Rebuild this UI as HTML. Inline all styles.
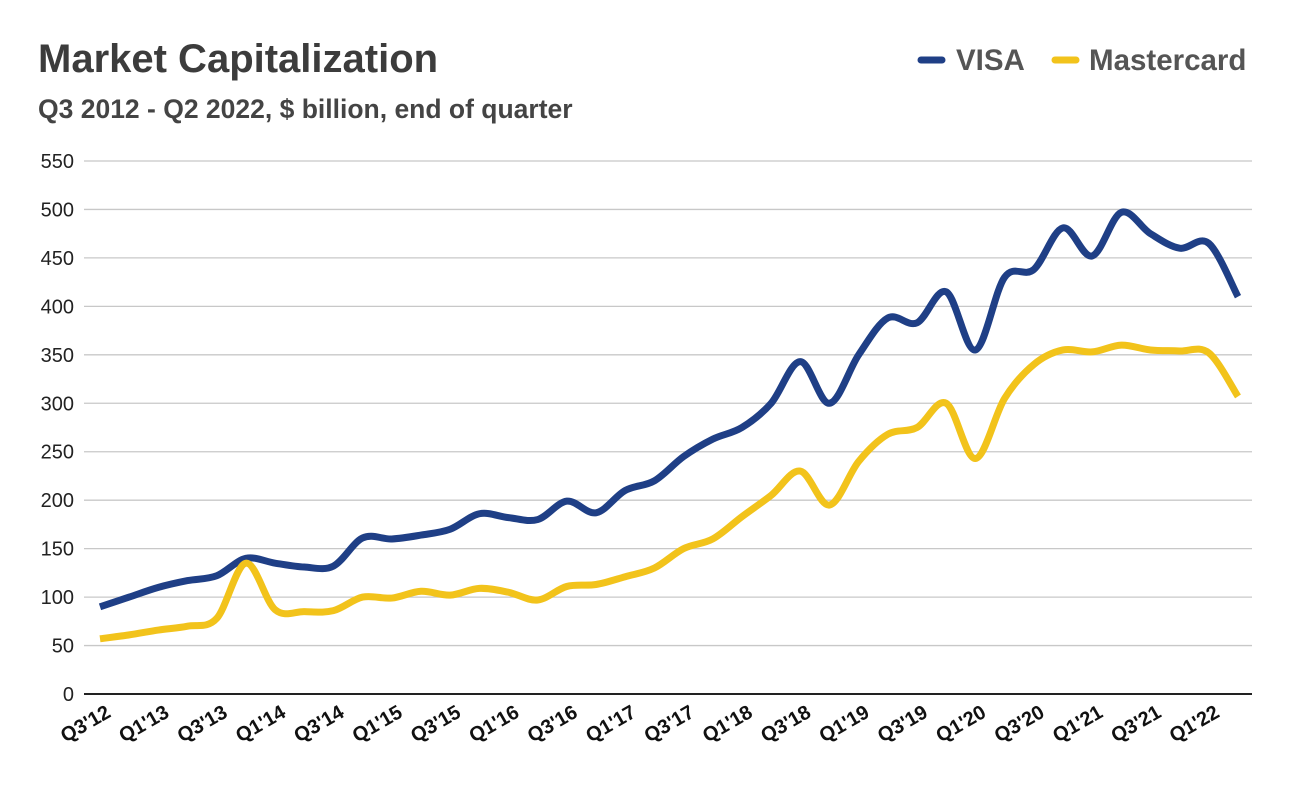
<!DOCTYPE html>
<html><head><meta charset="utf-8"><style>
body{margin:0;background:#fff;width:1292px;height:780px;overflow:hidden;font-family:"Liberation Sans",sans-serif}
</style></head><body>
<svg id="chart" width="1292" height="780">
<text x="38" y="72" font-size="40" font-weight="bold" fill="#3c3c3c">Market Capitalization</text>
<text x="38" y="118" font-size="26.5" font-weight="bold" fill="#444">Q3 2012 - Q2 2022, $ billion, end of quarter</text>
<g>
<g><line x1="921" y1="60" x2="942" y2="60" stroke="#1f3f86" stroke-width="7" stroke-linecap="round"/><text x="956" y="70" font-size="29.5" font-weight="bold" fill="#555">VISA</text></g>
<g><line x1="1055" y1="60" x2="1076" y2="60" stroke="#f2c31b" stroke-width="7" stroke-linecap="round"/><text x="1089" y="70" font-size="29.5" font-weight="bold" fill="#555">Mastercard</text></g>
</g>
<g id="grid"></g><g id="series"></g><g id="xlabels"></g>
</svg>
<script>
const categories=["Q3'12","Q4'12","Q1'13","Q2'13","Q3'13","Q4'13","Q1'14","Q2'14","Q3'14","Q4'14","Q1'15","Q2'15","Q3'15","Q4'15","Q1'16","Q2'16","Q3'16","Q4'16","Q1'17","Q2'17","Q3'17","Q4'17","Q1'18","Q2'18","Q3'18","Q4'18","Q1'19","Q2'19","Q3'19","Q4'19","Q1'20","Q2'20","Q3'20","Q4'20","Q1'21","Q2'21","Q3'21","Q4'21","Q1'22","Q2'22"];
const visa=[90,100,110,117,122,140,135,131,132,161,160,164,170,186,182,180,199,187,210,220,245,263,275,300,343,300,350,388,383,415,355,430,438,481,452,497,475,460,465,410];
const mastercard=[57,61,66,70,78,135,87,85,86,100,99,106,102,109,105,97,111,113,121,130,150,160,183,205,230,195,240,268,275,300,243,305,340,355,353,360,355,354,352,307];
const yTicks=[0,50,100,150,200,250,300,350,400,450,500,550];
const NS="http://www.w3.org/2000/svg";
const x0=100,x1=1238,y0=694,y1=161,yMax=550;
const xs=i=>x0+(x1-x0)*i/(categories.length-1);
const ys=v=>y0-(y0-y1)*v/yMax;
function mk(t,a,p){const e=document.createElementNS(NS,t);for(const k in a)e.setAttribute(k,a[k]);p.appendChild(e);return e;}
const grid=document.getElementById('grid');
yTicks.forEach(v=>{
  const l=mk('line',{x1:84,x2:1252,y1:ys(v),y2:ys(v),stroke:v===0?'#222':'#c8c8c8','stroke-width':v===0?2:1.3},grid);
  
  
  const t=mk('text',{x:74,y:ys(v)+7,'text-anchor':'end','font-size':20,fill:'#222'},grid);
  t.textContent=v;
  
  
});
function pathD(vals){
  const p=vals.map((v,i)=>[xs(i),ys(v)]);
  let d='M'+p[0][0]+','+p[0][1];
  for(let i=0;i<p.length-1;i++){
    const a=p[i-1]||p[i],b=p[i],c=p[i+1],e=p[i+2]||c;
    d+=` C${b[0]+(c[0]-a[0])/6},${b[1]+(c[1]-a[1])/6} ${c[0]-(e[0]-b[0])/6},${c[1]-(e[1]-b[1])/6} ${c[0]},${c[1]}`;
  }
  return d;
}
const s=document.getElementById('series');
const pv=mk('path',{d:pathD(visa),fill:'none',stroke:'#1f3f86','stroke-width':7,'stroke-linejoin':'round'},s);


const pm=mk('path',{d:pathD(mastercard),fill:'none',stroke:'#f2c31b','stroke-width':7,'stroke-linejoin':'round'},s);


const xl=document.getElementById('xlabels');
categories.forEach((c,i)=>{
  if(i%2)return;
  const x=xs(i)+12,y=716;
  const t=mk('text',{x:x,y:y,'text-anchor':'end','font-size':20,'font-weight':'bold',fill:'#111',transform:`rotate(-30 ${x} ${y})`},xl);
  t.textContent=c;
  
  
});
</script>
</body></html>
